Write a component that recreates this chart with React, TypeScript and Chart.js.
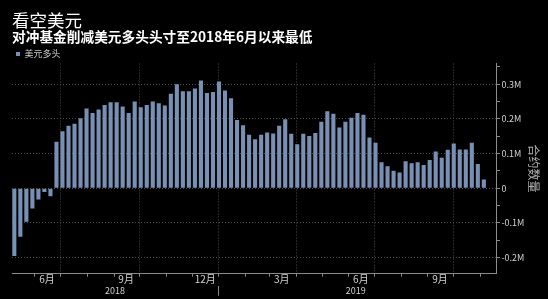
import React, { useEffect, useRef } from 'react';
import { Chart, registerables } from 'chart.js';

Chart.register(...registerables);

// Weekly report dates (Tuesdays)
const weekDates = [
  '2018-05-08', '2018-05-15', '2018-05-22', '2018-05-29',
  '2018-06-05', '2018-06-12', '2018-06-19', '2018-06-26',
  '2018-07-03', '2018-07-10', '2018-07-17', '2018-07-24', '2018-07-31',
  '2018-08-07', '2018-08-14', '2018-08-21', '2018-08-28',
  '2018-09-04', '2018-09-11', '2018-09-18', '2018-09-25',
  '2018-10-02', '2018-10-09', '2018-10-16', '2018-10-23', '2018-10-30',
  '2018-11-06', '2018-11-13', '2018-11-20', '2018-11-27',
  '2018-12-04', '2018-12-11', '2018-12-18', '2018-12-25',
  '2019-01-01', '2019-01-08', '2019-01-15', '2019-01-22', '2019-01-29',
  '2019-02-05', '2019-02-12', '2019-02-19', '2019-02-26',
  '2019-03-05', '2019-03-12', '2019-03-19', '2019-03-26',
  '2019-04-02', '2019-04-09', '2019-04-16', '2019-04-23', '2019-04-30',
  '2019-05-07', '2019-05-14', '2019-05-21', '2019-05-28',
  '2019-06-04', '2019-06-11', '2019-06-18', '2019-06-25',
  '2019-07-02', '2019-07-09', '2019-07-16', '2019-07-23', '2019-07-30',
  '2019-08-06', '2019-08-13', '2019-08-20', '2019-08-27',
  '2019-09-03', '2019-09-10', '2019-09-17', '2019-09-24',
  '2019-10-01', '2019-10-08', '2019-10-15', '2019-10-22', '2019-10-29',
  '2019-11-05',
];

// Net dollar long positions, millions of contracts
const usdLongs = [
  -0.196, -0.140, -0.097, -0.059, -0.033, -0.011, -0.023, 0.134,
  0.164, 0.180, 0.186, 0.202, 0.230, 0.217, 0.227, 0.240,
  0.248, 0.248, 0.236, 0.217, 0.250, 0.234, 0.240, 0.250,
  0.245, 0.239, 0.273, 0.300, 0.280, 0.280, 0.288, 0.311,
  0.275, 0.278, 0.308, 0.282, 0.260, 0.197, 0.182, 0.154,
  0.141, 0.154, 0.161, 0.158, 0.180, 0.199, 0.157, 0.127,
  0.157, 0.151, 0.159, 0.192, 0.222, 0.215, 0.175, 0.192,
  0.203, 0.217, 0.212, 0.146, 0.131, 0.075, 0.063, 0.050,
  0.045, 0.078, 0.072, 0.075, 0.067, 0.081, 0.106, 0.088,
  0.111, 0.129, 0.112, 0.112, 0.131, 0.070, 0.025,
];

const monthStarts = [
  '2018-06-01', '2018-07-01', '2018-08-01', '2018-09-01', '2018-10-01',
  '2018-11-01', '2018-12-01', '2019-01-01', '2019-02-01', '2019-03-01',
  '2019-04-01', '2019-05-01', '2019-06-01', '2019-07-01', '2019-08-01',
  '2019-09-01', '2019-10-01', '2019-11-01',
];
const quarterLines = ['2018-07-01', '2018-10-01', '2019-01-01', '2019-04-01', '2019-07-01', '2019-10-01'];
const monthLabelDates = ['2018-06-15', '2018-09-15', '2018-12-16', '2019-03-15', '2019-06-15', '2019-09-15'];
const monthLabels = ['6月', '9月', '12月', '3月', '6月', '9月'];
const yearLabelDates = ['2018-09-02', '2019-06-09'];
const yearLabels = ['2018', '2019'];
const yearDivider = '2019-01-01';
const yTickValues = [-0.2, -0.15, -0.1, -0.05, 0, 0.05, 0.1, 0.15, 0.2, 0.25, 0.3, 0.35];

const TITLE = '看空美元';
const SUBTITLE = '对冲基金削减美元多头头寸至2018年6月以来最低';
const SERIES = '美元多头';
const Y_TITLE = '合约数量';

const toDay = (s: string) =>
  Date.UTC(+s.slice(0, 4), +s.slice(5, 7) - 1, +s.slice(8, 10)) / 86400000;

const isMajor = (v: number) => Math.abs(Math.round(v * 10) - v * 10) < 1e-6;
const fmtY = (v: number) => (Math.abs(v) < 1e-9 ? '0' : v.toFixed(1) + 'M');

const FONT = "'Noto Sans CJK SC', 'Noto Sans', sans-serif";
const GRID = '#4c4c4c';
const AXIS = '#8c8c8c';
const LABEL = '#d2d2d2';

export default function App() {
  const ref = useRef<HTMLCanvasElement | null>(null);

  useEffect(() => {
    if (!ref.current) return;
    Chart.defaults.font.family = FONT;
    const day0 = toDay(weekDates[0]);
    const xMin = day0 - 2.7;
    const xMax = day0 + 560.7;
    const quarterSet = new Set(quarterLines.map(toDay));
    const dividerDay = toDay(yearDivider);
    const yearTicks = [
      { value: toDay(yearLabelDates[0]), label: yearLabels[0] },
      { value: dividerDay, label: '' },
      { value: toDay(yearLabelDates[1]), label: yearLabels[1] },
    ];

    const chart = new Chart(ref.current, {
      type: 'bar',
      data: {
        datasets: [
          {
            label: SERIES,
            data: weekDates.map((d, i) => ({ x: toDay(d), y: usdLongs[i] })),
            backgroundColor: '#7890b4',
            borderWidth: 0,
            barPercentage: 0.68,
            categoryPercentage: 1,
            xAxisID: 'x',
            yAxisID: 'y',
          },
        ],
      },
      options: {
        animation: false,
        responsive: false,
        maintainAspectRatio: false,
        events: [],
        layout: { padding: { left: 12, right: 0, top: 0, bottom: 0 } },
        plugins: {
          title: {
            display: true,
            text: TITLE,
            align: 'start',
            color: '#ffffff',
            font: { size: 17.5, weight: 'normal', lineHeight: 1 },
            padding: { top: 12, bottom: 0 },
          },
          subtitle: {
            display: true,
            text: SUBTITLE,
            align: 'start',
            color: '#ffffff',
            font: { size: 13.7, weight: 'bold', lineHeight: 1 },
            padding: { top: 0.7, bottom: 1.6 },
          },
          legend: {
            display: true,
            align: 'start',
            maxHeight: 18,
            labels: {
              boxWidth: 4,
              boxHeight: 4,
              padding: 4,
              color: '#cccccc',
              font: { size: 9 },
            },
          },
          tooltip: { enabled: false },
        },
        scales: {
          x: {
            type: 'linear',
            position: 'bottom',
            min: xMin,
            max: xMax,
            offset: false,
            weight: 0,
            afterBuildTicks: (s: any) => {
              s.ticks = monthStarts.map((d) => ({ value: toDay(d) }));
            },
            ticks: { display: false, autoSkip: false },
            grid: {
              offset: false,
              drawTicks: true,
              tickLength: 3,
              tickColor: AXIS,
              color: (ctx: any) => (ctx.tick && quarterSet.has(ctx.tick.value) ? GRID : 'transparent'),
            },
            border: { display: true, color: AXIS, dash: [1, 2] },
            afterFit: (s: any) => {
              s.height = 0;
            },
          },
          x2: {
            type: 'linear',
            position: 'bottom',
            min: xMin,
            max: xMax,
            offset: false,
            weight: 1,
            afterBuildTicks: (s: any) => {
              s.ticks = monthLabelDates.map((d) => ({ value: toDay(d) }));
            },
            ticks: {
              autoSkip: false,
              maxRotation: 0,
              minRotation: 0,
              padding: 0,
              color: LABEL,
              font: { size: 10 },
              callback: (_v: any, i: number) => monthLabels[i],
            },
            grid: { display: false, drawTicks: false, offset: false },
            border: { display: false },
            afterFit: (s: any) => {
              s.height = 12;
            },
          },
          x3: {
            type: 'linear',
            position: 'bottom',
            min: xMin,
            max: xMax,
            offset: false,
            weight: 2,
            afterBuildTicks: (s: any) => {
              s.ticks = yearTicks.map((t) => ({ value: t.value }));
            },
            ticks: {
              autoSkip: false,
              maxRotation: 0,
              minRotation: 0,
              padding: -10.7,
              color: LABEL,
              font: { size: 9 },
              callback: (_v: any, i: number) => yearTicks[i].label,
            },
            grid: {
              display: true,
              offset: false,
              drawOnChartArea: false,
              drawTicks: true,
              tickLength: 10,
              color: 'transparent',
              tickColor: (ctx: any) => (ctx.tick && ctx.tick.value === dividerDay ? AXIS : 'transparent'),
            },
            border: { display: false },
            afterFit: (s: any) => {
              s.height = 13.3;
            },
          },
          y: {
            type: 'linear',
            position: 'right',
            min: -0.247,
            max: 0.36,
            afterBuildTicks: (s: any) => {
              s.ticks = yTickValues.map((v) => ({ value: v }));
            },
            ticks: {
              autoSkip: false,
              padding: 1.5,
              color: LABEL,
              font: { size: 9 },
              callback: (v: any) => (isMajor(Number(v)) ? fmtY(Number(v)) : ''),
            },
            grid: {
              drawTicks: true,
              tickLength: 3.5,
              tickColor: AXIS,
              color: (ctx: any) => (ctx.tick && isMajor(ctx.tick.value) ? GRID : 'transparent'),
            },
            border: { display: true, color: AXIS, dash: [1, 2] },
            title: {
              display: true,
              text: Y_TITLE,
              color: '#b0b0b0',
              font: { size: 12 },
              padding: { top: 6.8, bottom: 0 },
            },
            afterFit: (s: any) => {
              s.width = 51.5;
            },
          },
        },
      } as any,
    });
    return () => chart.destroy();
  }, []);

  return (
    <div
      style={{
        position: 'absolute',
        left: 0,
        top: 0,
        width: 548,
        height: 299,
        background: '#000000',
        overflow: 'hidden',
      }}
    >
      <canvas ref={ref} width={548} height={299} style={{ display: 'block', width: 548, height: 299 }} />
    </div>
  );
}
